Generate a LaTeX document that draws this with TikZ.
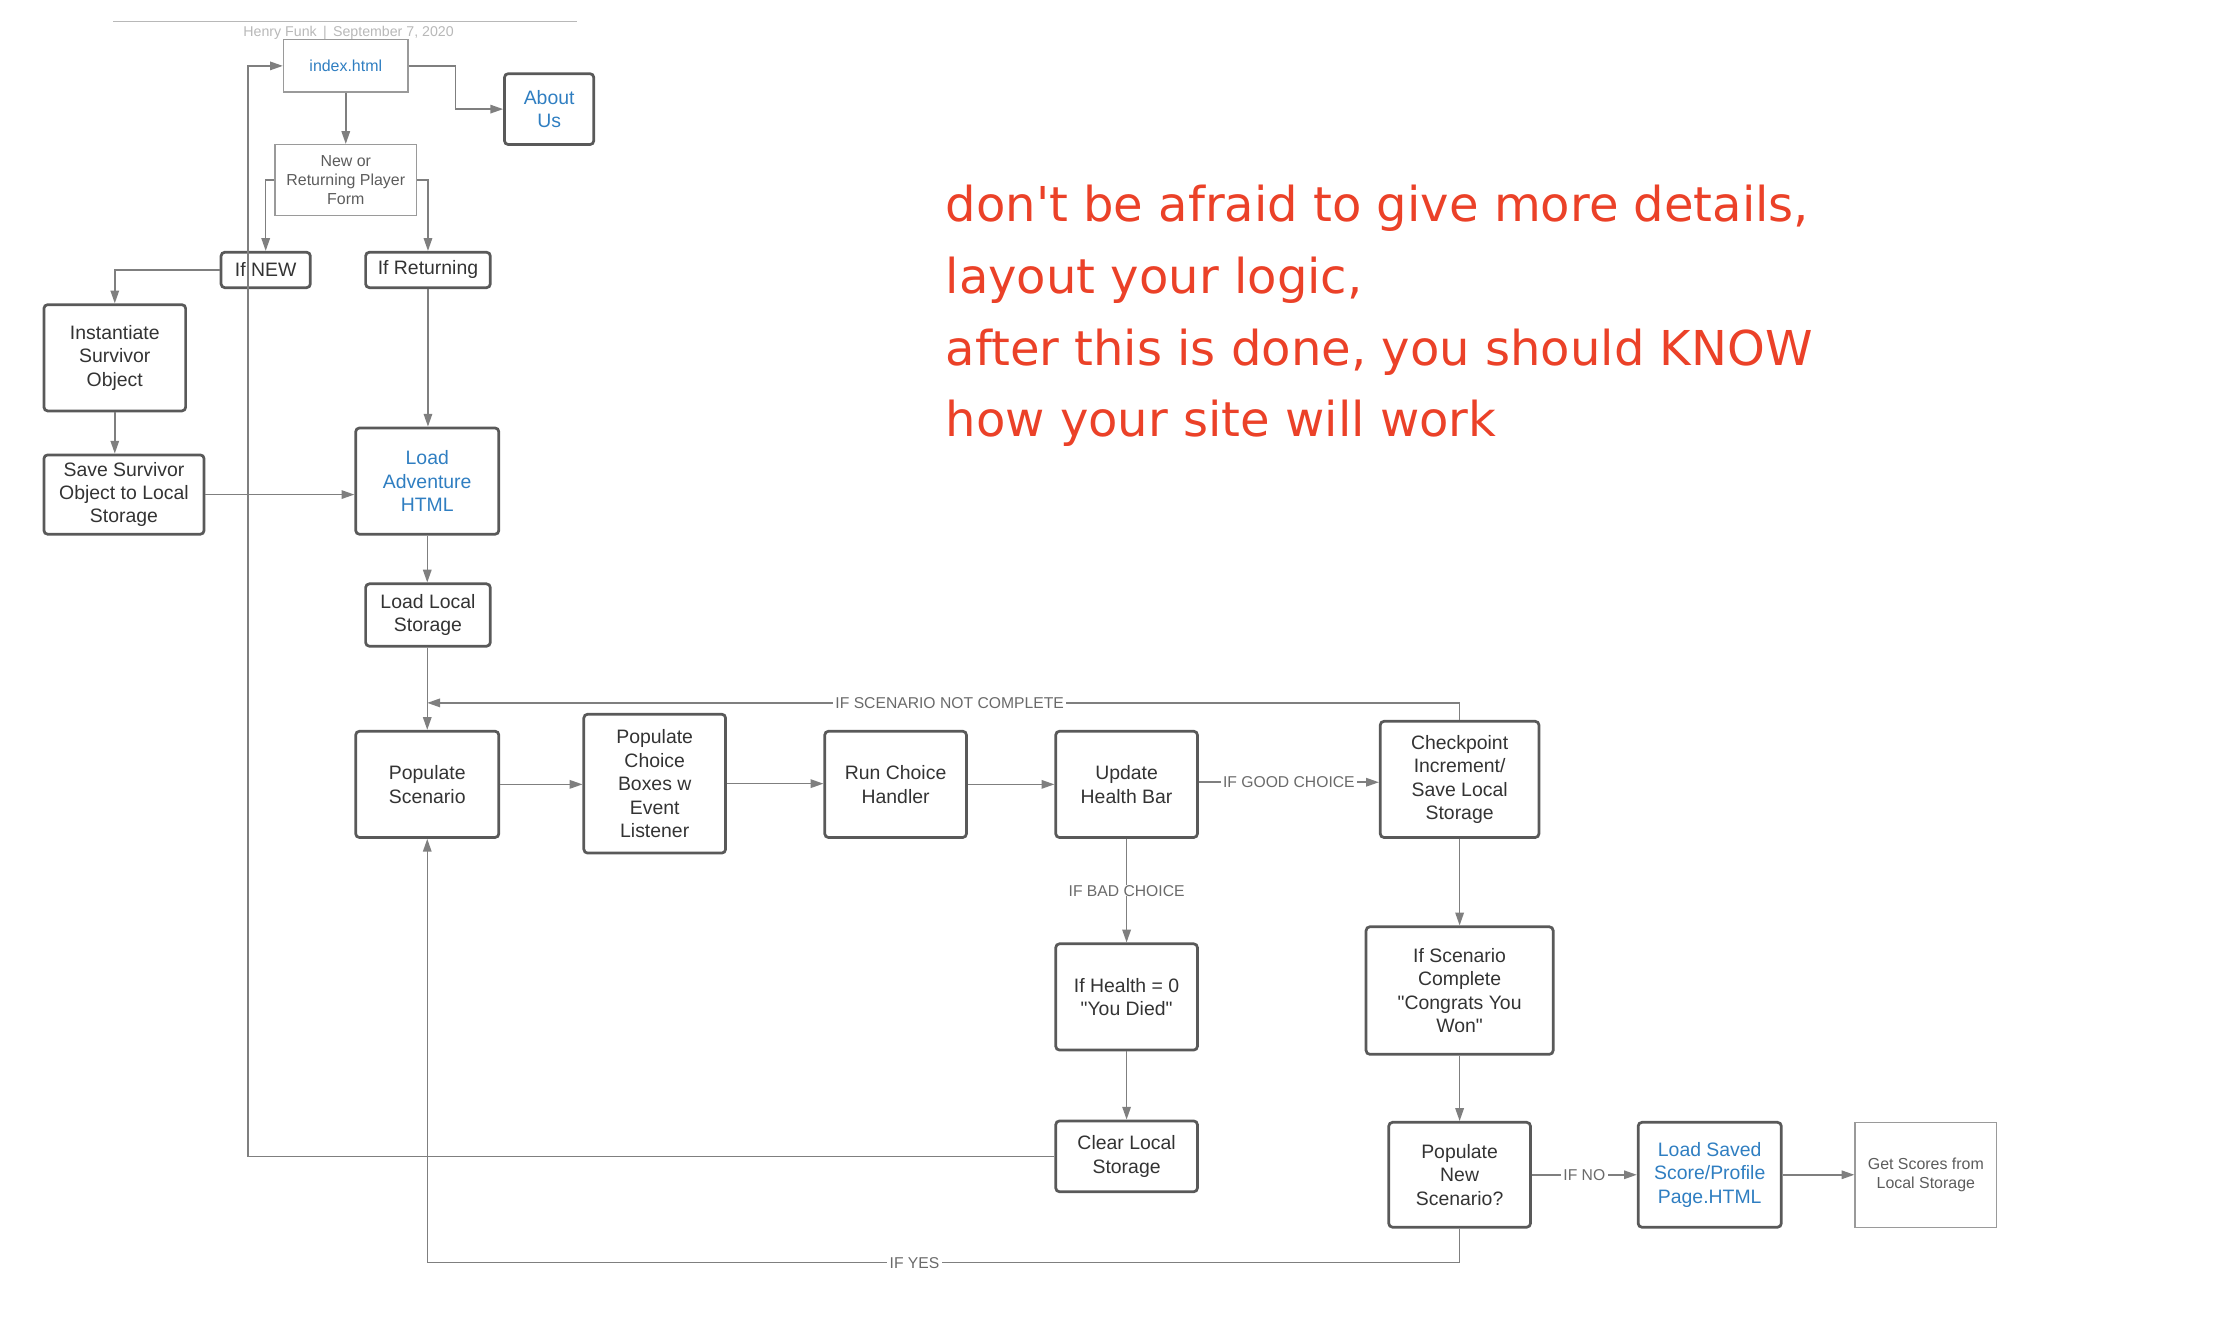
\documentclass[tikz,border=0pt]{standalone}
\usepackage{fontspec}
\setmainfont{Liberation Sans}
\newfontfamily\notefont{DejaVu Sans}
\usetikzlibrary{arrows.meta}
\definecolor{boxline}{HTML}{595959}
\definecolor{thinline}{HTML}{9A9A9A}
\definecolor{wire}{HTML}{7F7F7F}
\definecolor{linkblue}{HTML}{2F7EC1}
\definecolor{txtgray}{HTML}{333333}
\definecolor{lblgray}{HTML}{6A6A6A}
\definecolor{notered}{HTML}{EB4128}

\begin{document}
\begin{tikzpicture}[x=0.02cm, y=0.02cm]
\tikzstyle{every node}+=[inner sep=0pt]
\tikzstyle{block}=[draw=boxline, line width=1.1pt, rounded corners=1.5pt, align=center, text=txtgray, font=\fontsize{7.8}{9.4}\selectfont]
\tikzstyle{plain}=[draw=thinline, line width=0.5pt, align=center, text=txtgray!80, font=\fontsize{6.4}{7.7}\selectfont]
\tikzstyle{conn}=[draw=wire, line width=0.6pt, -{Triangle[length=0.18cm,width=0.12cm]}]
\tikzstyle{lbl}=[fill=white, inner xsep=1pt, text=lblgray, font=\fontsize{6.3}{7.5}\selectfont]
\tikzstyle{note}=[anchor=base west, text=notered, font=\notefont\fontsize{19.3}{29}\selectfont]
\useasboundingbox (0,0) rectangle (1568,-936);
% header
\draw [thinline!70, line width=0.6pt] (80,-15) -- (407,-15);
\node [text=thinline!70, font=\fontsize{5.7}{7}\selectfont] (byline) at (246,-23) {Henry Funk \,|\, September 7, 2020};
% entry
\node [plain, text=linkblue, minimum width=1.76cm, minimum height=0.74cm] (index) at (244,-46.5) {index.html};
\node [block, text=linkblue, minimum width=1.26cm, minimum height=1cm] (about) at (387.5,-77) {About\\Us};
\node [plain, minimum width=2cm, minimum height=1cm] (form) at (244,-127) {New or\\Returning Player\\Form};
\node [block, minimum width=1.26cm, minimum height=0.5cm] (ifnew) at (187.5,-190.5) {If NEW};
\node [block, minimum width=1.76cm, minimum height=0.5cm] (ifret) at (302,-190.5) {If Returning};
\node [block, minimum width=2cm, minimum height=1.5cm] (inst) at (81,-252.5) {Instantiate\\Survivor\\Object};
\node [block, minimum width=2.26cm, minimum height=1.12cm] (save) at (87.5,-349) {Save Survivor\\Object to Local\\Storage};
\node [block, text=linkblue, minimum width=2.02cm, minimum height=1.5cm] (loadadv) at (301.5,-339.5) {Load\\Adventure\\HTML};
\node [block, minimum width=1.76cm, minimum height=0.88cm] (loadloc) at (302,-434) {Load Local\\Storage};
% game loop
\node [block, minimum width=2.02cm, minimum height=1.5cm] (popscen) at (301.5,-553.5) {Populate\\Scenario};
\node [block, minimum width=2cm, minimum height=1.96cm] (popchoice) at (462,-553) {Populate\\Choice\\Boxes w\\Event\\Listener};
\node [block, minimum width=2cm, minimum height=1.5cm] (runchoice) at (632,-553.5) {Run Choice\\Handler};
\node [block, minimum width=2cm, minimum height=1.5cm] (health) at (795,-553.5) {Update\\Health Bar};
\node [block, minimum width=2.24cm, minimum height=1.64cm] (check) at (1030,-550) {Checkpoint\\Increment/\\Save Local\\Storage};
\node [block, minimum width=2cm, minimum height=1.5cm] (died) at (795,-703.5) {If Health = 0\\\textquotedbl You Died\textquotedbl};
\node [block, minimum width=2.64cm, minimum height=1.8cm] (won) at (1030,-699) {If Scenario\\Complete\\\textquotedbl Congrats You\\Won\textquotedbl};
\node [block, minimum width=2cm, minimum height=1cm] (clear) at (795,-816) {Clear Local\\Storage};
\node [block, minimum width=2cm, minimum height=1.48cm] (popnew) at (1030,-829) {Populate\\New\\Scenario?};
\node [block, text=linkblue, minimum width=2.02cm, minimum height=1.48cm] (loadsaved) at (1206.5,-829) {Load Saved\\Score/Profile\\Page.HTML};
\node [plain, minimum width=2cm, minimum height=1.48cm] (scores) at (1359,-829) {Get Scores from\\Local Storage};
% turning points
\coordinate (loopin) at (301.5,-496);
\coordinate (yesturn) at (301.5,-891);
\coordinate (backbot) at (175,-816);
% connectors
\draw [conn] (index.south) -- (form.north);
\draw [conn] (index.east) -- ++(33,0) |- (about.west);
\draw [conn] (form.west) -| (ifnew.north);
\draw [conn] (form.east) -| (ifret.north);
\draw [conn] (ifnew.west) -| (inst.north);
\draw [conn] (inst.south) -- (inst.south |- save.north);
\draw [conn] (save.east) -- (save.east -| loadadv.west);
\draw [conn] (ifret.south) -- (ifret.south |- loadadv.north);
\draw [conn] (loadadv.south) -- (loadadv.south |- loadloc.north);
\draw [conn] (loadloc.south -| popscen.north) -- (popscen.north);
\draw [conn] (popscen.east) -- (popscen.east -| popchoice.west);
\draw [conn] (popchoice.east) -- (popchoice.east -| runchoice.west);
\draw [conn] (runchoice.east) -- (health.west);
\draw [conn] (health.east |- 0,-552) -- node [lbl] {IF GOOD CHOICE} (check.west |- 0,-552);
\draw [conn] (health.south) -- node [lbl] {IF BAD CHOICE} (died.north);
\draw [conn] (check.north) |- node [lbl, pos=0.747] {IF SCENARIO NOT COMPLETE} (loopin);
\draw [conn] (check.south) -- (won.north);
\draw [conn] (died.south) -- (clear.north);
\draw [conn] (clear.west) -- (backbot) |- (index.west);
\draw [conn] (won.south) -- (popnew.north);
\draw [conn] (popnew.south) |- node [lbl, pos=0.764] {IF YES} (yesturn) -- (popscen.south);
\draw [conn] (popnew.east) -- node [lbl] {IF NO} (loadsaved.west);
\draw [conn] (loadsaved.east) -- (scores.west);
% advice
\node [note] (advice1) at (667,-156) {don't be afraid to give more details,};
\node [note] (advice2) at (667,-207) {layout your logic,};
\node [note] (advice3) at (667,-258) {after this is done, you should KNOW};
\node [note] (advice4) at (667,-308) {how your site will work};
\end{tikzpicture}
\end{document}
